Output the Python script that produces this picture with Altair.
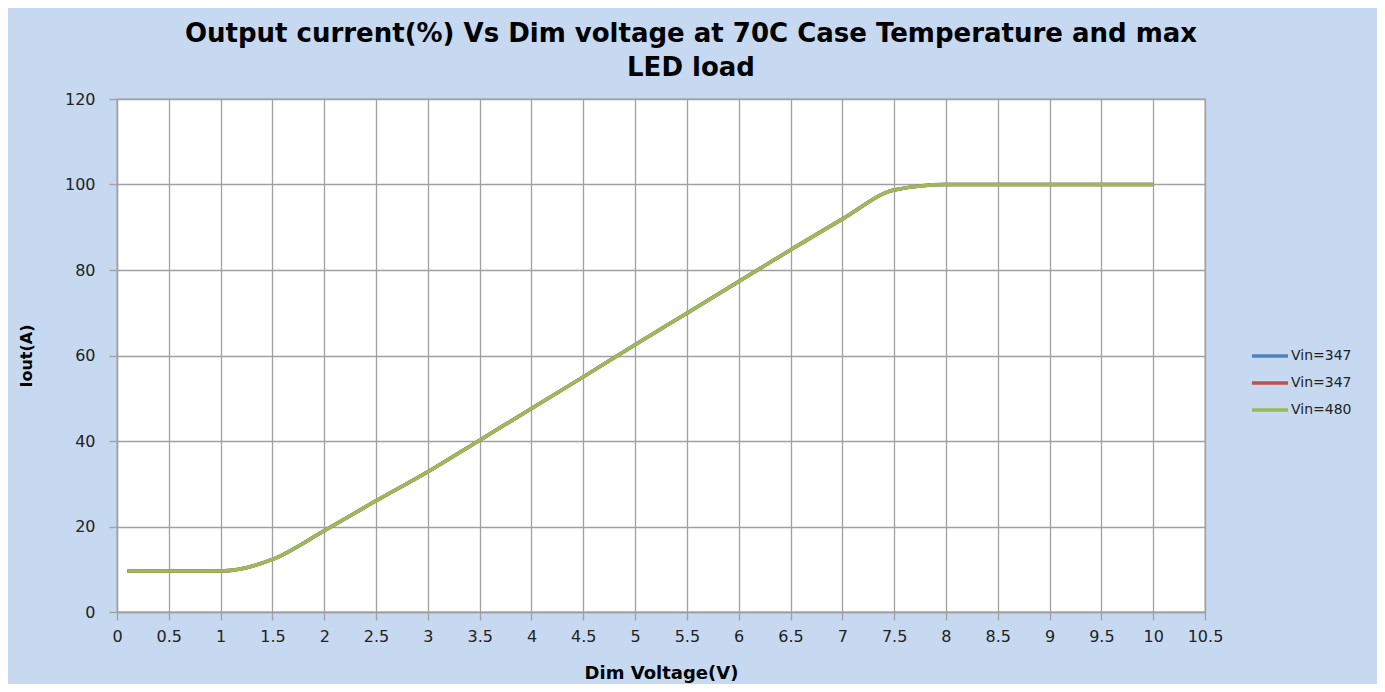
import altair as alt
import pandas as pd

# ---- data ----
dim_voltage = [0.1, 0.5, 1.0, 1.5, 2.0, 2.5, 3.0, 3.5, 4.0, 4.5, 5.0, 5.5, 6.0, 6.5,
               7.0, 7.5, 8.0, 8.5, 9.0, 9.5, 10.0]
iout_347a = [9.6, 9.6, 9.6, 12.3, 19.0, 26.0, 32.8, 40.2, 47.6, 55.0, 62.5, 69.9, 77.3, 84.7,
             91.9, 98.7, 100, 100, 100, 100, 100]
iout_347b = [9.6, 9.6, 9.6, 12.3, 19.0, 26.0, 32.8, 40.2, 47.6, 55.0, 62.5, 69.9, 77.3, 84.7,
             91.9, 98.7, 100, 100, 100, 100, 100]
iout_480 = [9.6, 9.6, 9.6, 12.3, 19.0, 26.0, 32.8, 40.2, 47.6, 55.0, 62.5, 69.9, 77.3, 84.7,
            91.9, 98.7, 100, 100, 100, 100, 100]

series_keys = ["s1", "s2", "s3"]
series_names = ["Vin=347", "Vin=347", "Vin=480"]
series_colors = ["#4f81bd", "#c0504d", "#9bbb59"]
x_ticks = [i * 0.5 for i in range(22)]
y_ticks = [0, 20, 40, 60, 80, 100, 120]

rows = []
for key, vals in zip(series_keys, [iout_347a, iout_347b, iout_480]):
    for xv, yv in zip(dim_voltage, vals):
        rows.append({"x": xv, "y": yv, "series": key})
df = pd.DataFrame(rows)

label_expr = " : ".join(
    [f"datum.label == '{k}' ? '{n}'" for k, n in zip(series_keys, series_names)] + ["''"]
)

FONT = "DejaVu Sans"

chart = alt.Chart(df).mark_line(strokeWidth=3.5, interpolate="monotone").encode(
    x=alt.X("x:Q",
            scale=alt.Scale(domain=[0, 10.5], nice=False, zero=False),
            axis=alt.Axis(title="Dim Voltage(V)", values=x_ticks, labelExpr="datum.value",
                          grid=True, gridColor="#a0a0a0", gridWidth=1.3,
                          domainColor="#a0a0a0", domainWidth=1.3,
                          tickColor="#a0a0a0", tickSize=8, tickWidth=1.3,
                          labelFont=FONT, labelFontSize=16, labelColor="#222222",
                          labelPadding=8, labelFlush=False,
                          titleFont=FONT, titleFontSize=18, titleFontWeight="bold",
                          titleColor="#000000", titlePadding=20)),
    y=alt.Y("y:Q",
            scale=alt.Scale(domain=[0, 120], nice=False),
            axis=alt.Axis(title="Iout(A)", values=y_ticks,
                          grid=True, gridColor="#a0a0a0", gridWidth=1.3,
                          domainColor="#a0a0a0", domainWidth=1.3,
                          tickColor="#a0a0a0", tickSize=8, tickWidth=1.3,
                          labelFont=FONT, labelFontSize=16, labelColor="#222222",
                          labelPadding=14,
                          titleFont=FONT, titleFontSize=16, titleFontWeight="bold",
                          titleColor="#000000", titlePadding=30)),
    color=alt.Color("series:N",
                    scale=alt.Scale(domain=series_keys, range=series_colors),
                    legend=alt.Legend(title=None, orient="none", legendX=1133, legendY=237,
                                      symbolType="stroke", symbolStrokeWidth=3.5,
                                      symbolSize=1300, labelOffset=1,
                                      labelExpr=label_expr,
                                      labelFont=FONT, labelFontSize=14,
                                      labelColor="#222222", rowPadding=0)),
).properties(
    width=1088,
    height=513,
    title=alt.TitleParams(
        text=["Output current(%) Vs Dim voltage at 70C Case Temperature and max", "LED load"],
        font=FONT, fontSize=26, fontWeight="bold", color="#000000",
        anchor="middle", dx=30, offset=10, lineHeight=34,
    ),
    padding={"left": 109, "top": 91, "right": 172, "bottom": 72},
    autosize=alt.AutoSizeParams(type="none"),
    background="#c6d9f0",
).configure_view(
    fill="#ffffff", stroke="#a0a0a0", strokeWidth=1.3
)

chart.save("out.html", embed_options={"renderer": "svg", "actions": False})
